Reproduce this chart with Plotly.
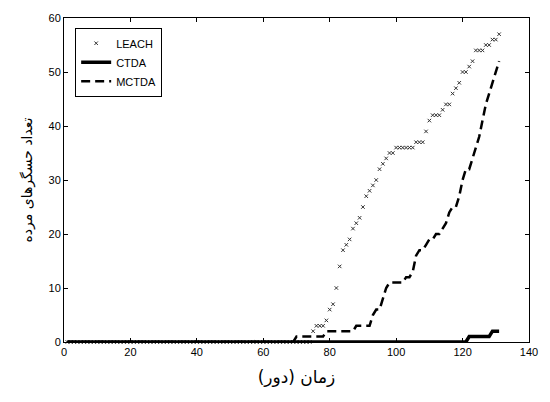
import plotly.graph_objects as go

# Rounds of the simulation
rounds = list(range(1, 132))

# Dead sensor nodes per round for each protocol
leach_dead = [
    0, 0, 0, 0, 0, 0, 0, 0, 0, 0, 0, 0, 0, 0, 0, 0, 0, 0, 0, 0,
    0, 0, 0, 0, 0, 0, 0, 0, 0, 0, 0, 0, 0, 0, 0, 0, 0, 0, 0, 0,
    0, 0, 0, 0, 0, 0, 0, 0, 0, 0, 0, 0, 0, 0, 0, 0, 0, 0, 0, 0,
    0, 0, 0, 0, 0, 0, 0, 0, 0, 0, 0, 0, 0, 0,
    2, 3, 3, 3, 4, 6, 7, 10, 14, 17, 18, 19, 21, 22, 23, 25,
    27, 28, 29, 30, 32, 33, 34, 35, 35, 36, 36, 36, 36, 36, 36,
    37, 37, 37, 39, 41, 42, 42, 42, 43, 44, 44, 46, 47, 48, 50,
    50, 51, 52, 54, 54, 54, 55, 55, 56, 56, 57,
]

ctda_dead = [
    0, 0, 0, 0, 0, 0, 0, 0, 0, 0, 0, 0, 0, 0, 0, 0, 0, 0, 0, 0,
    0, 0, 0, 0, 0, 0, 0, 0, 0, 0, 0, 0, 0, 0, 0, 0, 0, 0, 0, 0,
    0, 0, 0, 0, 0, 0, 0, 0, 0, 0, 0, 0, 0, 0, 0, 0, 0, 0, 0, 0,
    0, 0, 0, 0, 0, 0, 0, 0, 0, 0, 0, 0, 0, 0, 0, 0, 0, 0, 0, 0,
    0, 0, 0, 0, 0, 0, 0, 0, 0, 0, 0, 0, 0, 0, 0, 0, 0, 0, 0, 0,
    0, 0, 0, 0, 0, 0, 0, 0, 0, 0, 0, 0, 0, 0, 0, 0, 0, 0, 0, 0,
    0,
    1, 1, 1, 1, 1, 1, 1, 2, 2, 2,
]

mctda_dead = [
    0, 0, 0, 0, 0, 0, 0, 0, 0, 0, 0, 0, 0, 0, 0, 0, 0, 0, 0, 0,
    0, 0, 0, 0, 0, 0, 0, 0, 0, 0, 0, 0, 0, 0, 0, 0, 0, 0, 0, 0,
    0, 0, 0, 0, 0, 0, 0, 0, 0, 0, 0, 0, 0, 0, 0, 0, 0, 0, 0, 0,
    0, 0, 0, 0, 0, 0, 0, 0, 0,
    1, 1, 1, 1, 1, 1, 1, 1, 1,
    2, 2, 2, 2, 2, 2, 2, 2, 2,
    3, 3, 3, 3, 3,
    5, 6, 6, 8, 10, 11, 11, 11, 11, 11, 12, 12, 13, 16,
    17, 17, 18, 19, 19, 20, 20, 21, 22, 24, 25, 25, 27, 30, 32,
    32, 34, 36, 38, 41, 44, 46, 48, 50, 52,
]

x_ticks = [0, 20, 40, 60, 80, 100, 120, 140]
y_ticks = [0, 10, 20, 30, 40, 50, 60]

x_title = "\u200fزمان (دور)\u200f"
y_title = "\u200fتعداد حسگرهای مرده\u200f"

fig = go.Figure()

fig.add_trace(go.Scatter(
    x=rounds, y=leach_dead, name="LEACH", mode="markers",
    marker=dict(symbol="x-thin-open", size=3.5, color="#333",
                line=dict(width=1, color="#333")),
    cliponaxis=False,
))
fig.add_trace(go.Scatter(
    x=rounds, y=ctda_dead, name="CTDA", mode="lines",
    line=dict(color="black", width=3.5),
    cliponaxis=False,
))
fig.add_trace(go.Scatter(
    x=rounds, y=mctda_dead, name="MCTDA", mode="lines",
    line=dict(color="black", width=2.5, dash="9px,5px"),
    cliponaxis=False,
))

axis_common = dict(
    showgrid=False, zeroline=False,
    showline=True, linecolor="black", linewidth=1, mirror="ticks",
    ticks="inside", ticklen=4, tickcolor="black", tickwidth=1,
    tickfont=dict(family="Liberation Sans, Arial, sans-serif", size=11, color="black"),
)

fig.update_xaxes(
    range=[0, 140], tickvals=x_ticks, ticktext=[str(v) for v in x_ticks],
    title=dict(text=x_title, standoff=13,
               font=dict(family="DejaVu Sans, sans-serif", size=17, color="black")),
    **axis_common,
)
fig.update_yaxes(
    range=[0, 60], tickvals=y_ticks, ticktext=[str(v) for v in y_ticks],
    title=dict(text=y_title, standoff=12,
               font=dict(family="DejaVu Sans, sans-serif", size=14, color="black")),
    **axis_common,
)

fig.update_layout(
    width=550, height=402,
    margin=dict(l=64, r=13, t=16, b=60),
    paper_bgcolor="white", plot_bgcolor="white",
    showlegend=True,
    legend=dict(
        x=0.024, y=0.97, xanchor="left", yanchor="top",
        bgcolor="white", bordercolor="black", borderwidth=1,
        font=dict(family="Liberation Sans, Arial, sans-serif", size=11, color="black"),
        tracegroupgap=0, itemwidth=30,
    ),
)

fig.write_html("out.html")
